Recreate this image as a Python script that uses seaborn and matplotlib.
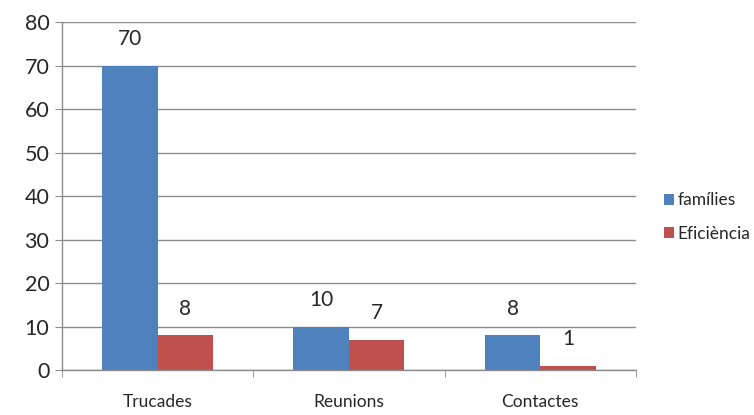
import seaborn as sns
import matplotlib.pyplot as plt
import pandas as pd

sns.set_style("white")
plt.rcParams['font.family'] = ['Lato', 'DejaVu Sans']

# Data
categories = ["Trucades", "Reunions", "Contactes"]
families = [70, 10, 8]
eficiencia = [8, 7, 1]
series_names = ["famílies", "Eficiència"]

data = pd.DataFrame({
    "Categoria": categories * 2,
    "Valor": families + eficiencia,
    "Serie": [series_names[0]] * 3 + [series_names[1]] * 3,
})

fig = plt.figure(figsize=(7.54, 4.15), dpi=100)
ax = fig.add_axes([0.082, 0.108, 0.7615, 0.839])

sns.barplot(
    data=data, x="Categoria", y="Valor", hue="Serie",
    palette=["#4F81BD", "#C0504D"], width=0.58, gap=0,
    saturation=1, ax=ax, errorbar=None, edgecolor="none"
)

# Value labels above the bars
for cont in ax.containers:
    ax.bar_label(cont, fmt="%.0f", padding=12, fontsize=15)

ax.set_ylim(0, 80)
ax.set_xlim(-0.5, 2.5)
ax.set_yticks(range(0, 81, 10))
ax.yaxis.grid(True, color="#8C8C8C", linewidth=1)
ax.set_axisbelow(True)
ax.set_xlabel("")
ax.set_ylabel("")

for side in ["top", "right"]:
    ax.spines[side].set_visible(False)
for side in ["left", "bottom"]:
    ax.spines[side].set_color("#8C8C8C")
    ax.spines[side].set_linewidth(1)

ax.tick_params(axis="y", labelsize=15.5, length=5, color="#8C8C8C", direction="out", left=True, pad=4)
ax.tick_params(axis="x", which="major", labelsize=12.5, length=0, pad=17)
ax.set_xticks([-0.5, 0.5, 1.5, 2.5], minor=True)
ax.tick_params(axis="x", which="minor", length=5, color="#8C8C8C", direction="out", bottom=True)

ax.legend(loc="center left", bbox_to_anchor=(1.0, 0.44), frameon=False,
          fontsize=12.5, handlelength=0.6, handleheight=0.6, handletextpad=0.2,
          labelspacing=1.0, borderaxespad=1.2)

plt.savefig("out.png", dpi=100)
plt.close()
